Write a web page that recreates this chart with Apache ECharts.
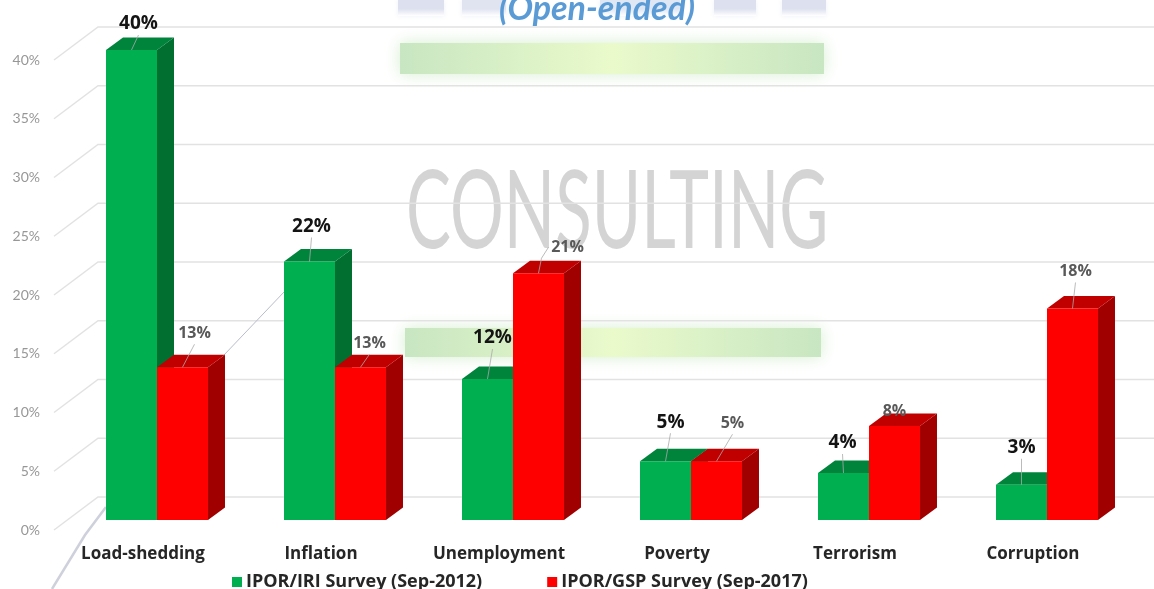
<!DOCTYPE html>
<html>
<head>
<meta charset="utf-8">
<title>IPOR survey chart</title>
<script src="https://cdn.jsdelivr.net/npm/echarts@6/dist/echarts.min.js"></script>
<style>
html, body { margin: 0; padding: 0; background: #fff; }
#main { width: 1154px; height: 589px; filter: blur(0.4px); }
</style>
</head>
<body>
<div id="main"></div>
<script>
var categories = ['Load-shedding', 'Inflation', 'Unemployment', 'Poverty', 'Terrorism', 'Corruption'];
var survey2012 = [40, 22, 12, 5, 4, 3];
var survey2017 = [13, 13, 21, 5, 8, 18];
var yTicks = [0, 5, 10, 15, 20, 25, 30, 35, 40];
var name2012 = 'IPOR/IRI Survey (Sep-2012)';
var name2017 = 'IPOR/GSP Survey (Sep-2017)';

// where each value label sits, relative to the middle of the bar's top front edge
var labelShift2012 = [[7, -26], [2, -35], [5, -41], [5, -39], [-1, -30], [0, -37]];
var labelShift2017 = [[12, -34], [9, -24], [29, -26], [16, -38], [0, -15], [3, -37]];

var font = '"Open Sans", Lato, sans-serif';

// the picture is a fake 3d: axes sit on the front plane, bars and wall are pushed back
var WALL_DX = 44, WALL_DY = -33;
var BAR_DX = 14, BAR_DY = -10;
var DEPTH_DX = 17, DEPTH_DY = -12.5;

function renderWall(params, api) {
    var p = api.coord([0, api.value(1)]);
    var x0 = params.coordSys.x;
    return {
        type: 'polyline',
        silent: true,
        shape: { points: [[x0, p[1]], [x0 + WALL_DX, p[1] + WALL_DY], [1154, p[1] + WALL_DY]] },
        style: { fill: 'none', stroke: '#e2e2e2', lineWidth: 1.4 }
    };
}

function makeBarRender(side, front, topFace, sideFace, shifts, labelStyle) {
    return function (params, api) {
        var idx = api.value(0);
        var top = api.coord([idx, api.value(1)]);
        var base = api.coord([idx, 0]);
        var w = api.size([1, 0])[0] * 0.2865;
        var x = top[0] + BAR_DX + (side === 0 ? -w : 0);
        var yT = top[1] + BAR_DY;
        var yB = base[1] + BAR_DY;
        var shift = shifts[idx];
        var cx = x + w / 2;
        var lx = cx + shift[0], ly = yT + shift[1];
        var children = [
            { type: 'polygon', shape: { points: [[x + w, yT], [x + w + DEPTH_DX, yT + DEPTH_DY], [x + w + DEPTH_DX, yB + DEPTH_DY], [x + w, yB]] }, style: { fill: sideFace } },
            { type: 'polygon', shape: { points: [[x, yT], [x + DEPTH_DX, yT + DEPTH_DY], [x + w + DEPTH_DX, yT + DEPTH_DY], [x + w, yT]] }, style: { fill: topFace } },
            { type: 'rect', shape: { x: x, y: yT, width: w, height: yB - yT }, style: { fill: front } }
        ];
        if (ly + 11 < yT - 4) {
            children.push({ type: 'line', shape: { x1: cx, y1: yT, x2: shift[0] > 20 ? cx + 3 : lx, y2: ly + 11 }, style: { stroke: '#a9a9a9', lineWidth: 0.8 } });
            if (shift[0] > 20) {
                children.push({ type: 'line', shape: { x1: cx + 3, y1: ly + 11, x2: lx - 19, y2: ly }, style: { stroke: '#a9a9a9', lineWidth: 0.8 } });
            }
        }
        children.push({
            type: 'text',
            style: {
                x: lx, y: ly, text: api.value(1) + '%', align: 'center', verticalAlign: 'middle',
                fill: labelStyle.color, font: labelStyle.font
            }
        });
        return { type: 'group', children: children };
    };
}

function toPairs(values) {
    return values.map(function (v, i) { return [i, v]; });
}

function blurBar(x, y, w, h) {
    return {
        type: 'rect', z: 0, silent: true,
        shape: { x: x, y: y, width: w, height: h },
        style: {
            fill: new echarts.graphic.LinearGradient(0, 0, 1, 0, [
                { offset: 0, color: '#c8e6c2' }, { offset: 0.5, color: '#eafacb' }, { offset: 1, color: '#c8e6c2' }
            ]),
            shadowBlur: 16, shadowColor: '#d6eed0'
        }
    };
}

function smudge(x, w, color) {
    return {
        type: 'rect', z: 0, silent: true,
        shape: { x: x, y: 0, width: w, height: 16 },
        style: {
            fill: new echarts.graphic.LinearGradient(0, 0, 0, 1, [
                { offset: 0, color: color }, { offset: 0.55, color: color }, { offset: 1, color: '#ffffff' }
            ]),
            shadowBlur: 5, shadowColor: '#eef0f7'
        }
    };
}

var chart = echarts.init(document.getElementById('main'), null, { renderer: 'canvas' });

chart.setOption({
    animation: false,
    backgroundColor: '#fff',
    grid: { left: 54, top: 60, width: 1068, height: 470 },
    legend: {
        left: 227,
        top: 568,
        itemWidth: 10,
        itemHeight: 10,
        itemGap: 65,
        icon: 'rect',
        data: [name2012, name2017],
        textStyle: { fontFamily: font, fontWeight: 'bold', fontSize: 18, color: '#262626', padding: [0, 0, 0, -1] }
    },
    xAxis: {
        type: 'category',
        data: categories,
        axisLine: { show: false },
        axisTick: { show: false },
        axisLabel: { margin: 16, fontFamily: font, fontWeight: 'bold', fontSize: 17, color: '#262626' }
    },
    yAxis: {
        type: 'value',
        min: 0,
        max: 40,
        interval: 5,
        axisLine: { show: false },
        axisTick: { show: false },
        splitLine: { show: false },
        axisLabel: { margin: 14, formatter: '{value}%', fontFamily: 'Lato, sans-serif', fontSize: 14, color: '#979797' }
    },
    graphic: [
        smudge(398, 46, '#dde0ee'), smudge(462, 44, '#e0e3f0'), smudge(600, 80, '#dfe7f4'),
        smudge(714, 42, '#dde0ee'), smudge(782, 44, '#dde0ee'),
        blurBar(400, 43, 424, 31),
        blurBar(405, 328, 416, 29),
        {
            type: 'text', z: 0, silent: true, x: 406, y: 158, scaleX: 0.59, scaleY: 0.96,
            style: { text: 'CONSULTING', fill: '#d4d4d4', font: '400 114px Lato, sans-serif', lineDash: [1.5, 2.5], stroke: '#fff', lineWidth: 1.2 }
        },
        {
            type: 'text', z: 3, silent: true, x: 597, y: 9,
            style: { text: '(Open-ended)', align: 'center', verticalAlign: 'middle', fill: '#5b9bd5', font: 'italic bold 34px Lato, sans-serif' }
        },
        {
            type: 'line', z: 3, silent: true, shape: { x1: 224, y1: 355, x2: 284, y2: 292 },
            style: { stroke: '#b9bdca', lineWidth: 1 }
        },
        {
            type: 'polyline', z: 3, silent: true, shape: { points: [[106, 507], [85, 535], [52, 589]] },
            style: { fill: 'none', stroke: '#ced1db', lineWidth: 2.5 }
        }
    ],
    series: [
        {
            type: 'custom',
            name: 'wall',
            z: 1,
            silent: true,
            renderItem: renderWall,
            encode: { x: 0, y: 1 },
            data: yTicks.map(function (t) { return [0, t]; })
        },
        {
            type: 'custom',
            name: name2012,
            z: 4,
            itemStyle: { color: '#00b050' },
            renderItem: makeBarRender(0, '#00b050', '#00843c', '#006f30', labelShift2012, { color: '#141414', font: 'bold 19px ' + font }),
            encode: { x: 0, y: 1 },
            data: toPairs(survey2012)
        },
        {
            type: 'custom',
            name: name2017,
            z: 5,
            itemStyle: { color: '#ff0000' },
            renderItem: makeBarRender(1, '#ff0000', '#c00000', '#a00000', labelShift2017, { color: '#595959', font: 'bold 16px ' + font }),
            encode: { x: 0, y: 1 },
            data: toPairs(survey2017)
        }
    ]
});
</script>
</body>
</html>
